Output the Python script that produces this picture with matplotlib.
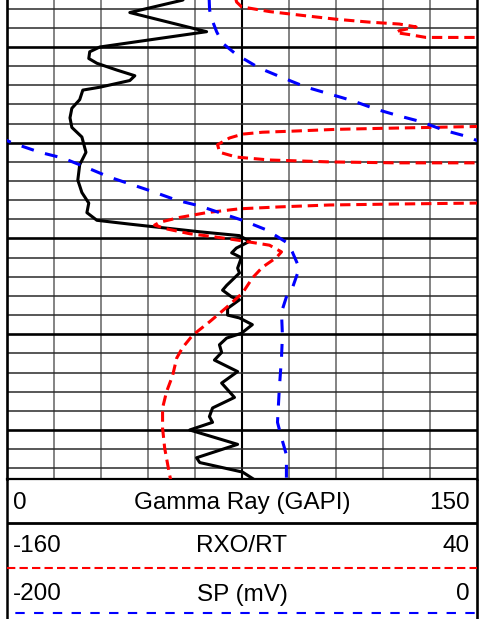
import numpy as np
import matplotlib
matplotlib.use("Agg")
import matplotlib.pyplot as plt

plt.rcParams['font.family'] = ['Liberation Sans', 'DejaVu Sans']

# ---------------- data ----------------
gr_depth = [4994.8, 4995.1, 4996.4, 4998.4, 5000.0, 5000.5, 5001.2, 5001.7, 5002.4, 5003.0,
            5003.5, 5004.2, 5004.5, 5005.5, 5006.4, 5007.4, 5008.4, 5009.4, 5011.0, 5012.3,
            5013.9, 5015.2, 5016.3, 5017.3, 5018.1, 5018.5, 5019.3, 5019.7, 5020.3, 5021.0,
            5021.5, 5022.0, 5023.1, 5023.6, 5024.9, 5025.4, 5026.1, 5026.4, 5027.3, 5028.0,
            5028.3, 5029.0, 5029.9, 5030.4, 5031.1, 5031.9, 5032.7, 5033.9, 5035.1, 5036.6,
            5037.7, 5038.6, 5039.2, 5040.0, 5041.5, 5042.9, 5043.4, 5044.4, 5045.2, 5045.7]
gr_value = [56.7, 56.1, 39.2, 63.7, 29.6, 26.4, 26.1, 28.7, 35.0, 40.8,
            39.2, 29.6, 24.2, 23.2, 20.7, 20.1, 20.7, 23.9, 25.2, 23.2,
            22.6, 23.9, 26.1, 25.5, 28.7, 39.2, 61.5, 74.2, 77.4, 73.2,
            71.7, 74.8, 73.6, 74.2, 70.1, 68.8, 71.7, 74.2, 70.4, 70.4,
            74.2, 78.3, 74.8, 70.1, 67.8, 68.5, 66.2, 73.6, 68.5, 72.6,
            65.6, 64.6, 65.6, 58.3, 73.6, 60.5, 61.5, 75.2, 79.0, 81.2]

rxo_depth = [4994.8, 4995.3, 4995.8, 4996.3, 4996.7, 4997.1, 4997.4, 4997.6, 4997.9, 4998.3,
             4998.5, 4998.7, 4999.0, 4999.0, 4999.0, 5003.4, 5008.3, 5008.3, 5008.4, 5008.5,
             5008.6, 5008.8, 5008.9, 5009.1, 5009.5, 5010.2, 5011.0, 5011.5, 5011.8, 5012.0,
             5012.1, 5012.1, 5012.2, 5014.2, 5016.3, 5016.3, 5016.4, 5016.5, 5016.7, 5016.9,
             5017.3, 5017.8, 5018.3, 5018.6, 5019.0, 5019.5, 5019.8, 5020.2, 5020.7, 5021.4,
             5022.0, 5023.0, 5024.1, 5025.7, 5027.2, 5028.7, 5030.1, 5031.4, 5032.5, 5034.3,
             5036.0, 5037.7, 5039.8, 5041.9, 5044.7, 5045.7]
rxo_value = [-62.8, -62.3, -60.2, -48.3, -34.3, -19.9, -5.9, 6.9, 14.1, 6.9,
             5.6, 11.1, 18.3, 40.0, 45.1, 75.0, 45.1, 40.0, 19.6, -1.6,
             -19.9, -39.8, -51.3, -59.8, -65.3, -70.4, -69.5, -62.3, -48.3, -22.8,
             5.6, 40.0, 45.1, 60.0, 45.1, 40.0, 5.6, -22.8, -44.1, -61.1,
             -75.1, -86.5, -95.0, -97.2, -92.1, -82.3, -72.5, -61.1, -48.3, -43.2,
             -45.4, -51.3, -55.5, -59.8, -66.6, -73.8, -81.0, -85.3, -87.8, -89.5,
             -92.1, -93.8, -93.8, -92.9, -90.8, -89.9]

# SP in mV (values above 0 are drawn on the wrapped backup scale)
sp_depth = [4994.8, 4996.1, 4997.0, 4998.4, 4999.6, 5000.8, 5002.2, 5003.2, 5004.2, 5004.9,
            5005.6, 5006.5, 5007.2, 5007.8, 5008.7, 5009.4, 5010.0, 5011.0, 5011.6, 5012.6,
            5013.6, 5014.4, 5015.1, 5016.0, 5016.6, 5017.3, 5018.1, 5019.1, 5020.4, 5021.4,
            5023.1, 5025.2, 5026.1, 5027.7, 5030.1, 5032.5, 5035.6, 5039.2, 5040.8, 5042.6,
            5044.7, 5045.7]
sp_value = [-114.0, -113.8, -113.0, -110.8, -108.3, -102.3, -92.6, -82.8, -72.6, -62.8,
            -53.1, -42.9, -33.1, -23.8, -14.0, -3.4, 2.1, 14.0, 23.8, 34.0,
            43.7, 53.5, 62.0, 72.2, 82.0, 90.4, 100.2, 110.4, 118.9, 121.4,
            124.4, 121.4, 118.9, 116.8, 117.2, 116.8, 115.9, 115.1, 116.8, 118.9,
            118.9, 118.9]

track_titles = ["Gamma Ray (GAPI)", "RXO/RT", "SP (mV)"]
track_left_labels = ["0", "-160", "-200"]
track_right_labels = ["150", "40", "0"]
gr_range = (0, 150)
rxo_range = (-160, 40)
sp_range = (-200, 0)
depth_top, depth_bottom = 4995.09, 5045.12

# ---------------- layout ----------------
W, H = 479, 619
fig = plt.figure(figsize=(W / 100, H / 100), dpi=100)
xl, xr = 7 / W, 477 / W
plot_h = 479 / H
ax = fig.add_axes([xl, 1 - plot_h, xr - xl, plot_h])
ax.set_xlim(*gr_range)
ax.set_ylim(depth_bottom, depth_top)
ax.set_xticks([]); ax.set_yticks([])
ax.spines['top'].set_visible(False)
ax.spines['left'].set_linewidth(1.9)
ax.spines['right'].set_linewidth(1.8)
ax.spines['bottom'].set_linewidth(1.6)

# grid
step = (gr_range[1] - gr_range[0]) / 10
for k in range(1, 10):
    xv = gr_range[0] + k * step
    if k == 5:
        ax.axvline(xv, color='black', lw=1.5, zorder=1)
    else:
        ax.axvline(xv, color='#7a7a7a', lw=1.3, zorder=1)
for d in np.arange(4996, 5045, 2):
    if d % 10 == 0:
        ax.axhline(d, color='black', lw=1.9, zorder=1.1)
    else:
        ax.axhline(d, color='#2a2a2a', lw=1.1, zorder=1)

# curves
ax.plot(gr_value, gr_depth, color='black', lw=2.2, solid_joinstyle='round', zorder=3)

ax2 = ax.twiny()
ax2.set_xlim(*rxo_range)
ax2.axis('off')
ax2.plot(rxo_value, rxo_depth, color='#ff0000', lw=2.2, linestyle=(0, (3.4, 1.9)))

ax3 = ax.twiny()
ax3.set_xlim(*sp_range)
ax3.axis('off')
sp_arr = np.array(sp_value)
span = sp_range[1] - sp_range[0]
ax3.plot(sp_arr, sp_depth, color='#0000ff', lw=2.2, linestyle=(0, (4.2, 3.8)))
ax3.plot(sp_arr - span, sp_depth, color='#0000ff', lw=2.2, linestyle=(0, (4.2, 3.8)))

# ---------------- header ----------------
hh = H - 479
hax = fig.add_axes([xl, 0, xr - xl, hh / H])
hax.set_xlim(0, 1)
hax.set_ylim(hh, 0)
hax.axis('off')
kw = dict(color='black', clip_on=False, solid_capstyle='butt')
hax.plot([0, 0], [0, hh], lw=1.8, **kw)
hax.plot([1, 1], [0, hh], lw=1.9, **kw)
hax.plot([0, 1], [44, 44], lw=2.0, **kw)
hax.plot([0, 1], [89, 89], color='#ff0000', lw=1.5, linestyle=(0, (4.0, 2.0)), clip_on=False)
hax.plot([0, 1], [134, 134], color='#0000ff', lw=1.5, linestyle=(5, (4.5, 4.5)), clip_on=False)

fs = 17.5
baselines = [30, 73.5, 121.5]
for title, lft, rgt, yb in zip(track_titles, track_left_labels, track_right_labels, baselines):
    hax.text(0.5, yb, title, ha='center', va='baseline', fontsize=fs)
    hax.text(0.013, yb, lft, ha='left', va='baseline', fontsize=fs)
    hax.text(0.985, yb, rgt, ha='right', va='baseline', fontsize=fs)

fig.savefig('out.png', dpi=100)
